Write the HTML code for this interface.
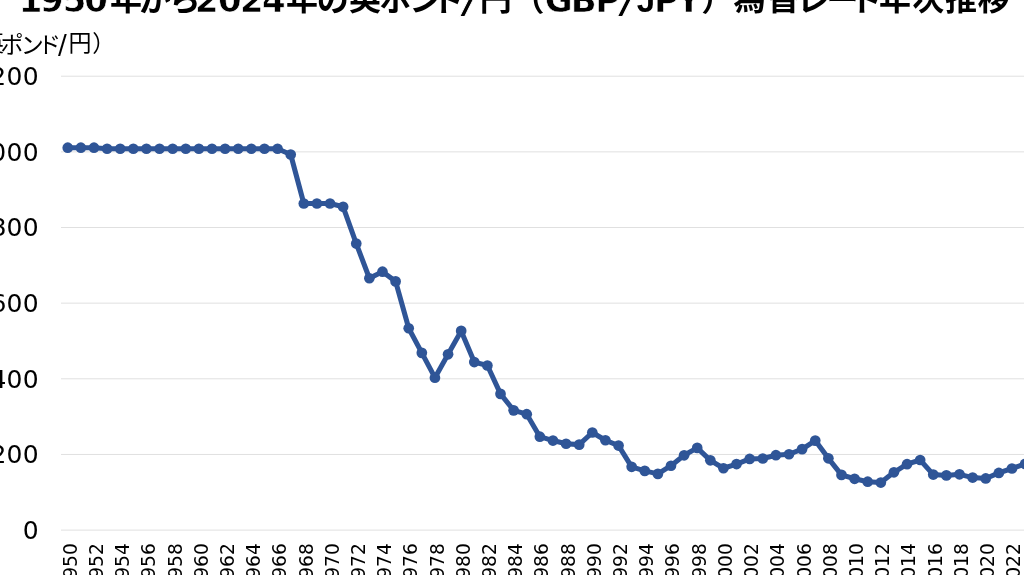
<!DOCTYPE html>
<html lang="ja">
<head>
<meta charset="utf-8">
<title>1950年から2024年の英ポンド/円（GBP/JPY）為替レート年次推移</title>
<style>
html,body{margin:0;padding:0;background:#fff;}
body{width:1024px;height:575px;overflow:hidden;position:relative;}
svg{display:block;position:absolute;left:0;top:0;}
text{font-family:"DejaVu Sans","Liberation Sans","Noto Sans CJK JP",sans-serif;fill:#000;}
.title{font-weight:bold;font-size:32px;}
.title .l{font-size:34px;stroke:#fff;stroke-width:0.6px;}
.title .s{font-size:44px;font-style:oblique;stroke:#fff;stroke-width:0.9px;}
.title .j{font-family:"Liberation Sans","DejaVu Sans",sans-serif;font-size:33px;}
.ylab{font-size:23px;}
.ylab .s{font-size:26px;}
.ytick{font-size:25px;text-anchor:end;letter-spacing:0.3px;}
.xtick{font-size:19.8px;text-anchor:end;}
.grid line{stroke:#e0e0e0;stroke-width:1;}
</style>
</head>
<body>
<svg width="1024" height="575" viewBox="0 0 1024 575">
<rect x="0" y="0" width="1024" height="575" fill="#ffffff"/>
<text class="title" x="18.8 40.0 62.7 84.2 109.9 138.8 168.8 195.1 218.0 240.1 261.9 285.9 316.7 349.0 379.6 409.2 432.4 464.1 479.8 512.4 544.8 570.8 595.2 621.8 636.7 653.9 676.6 701.2 733.6 767.6 796.8 826.5 849.8 879.0 912.3 945.0 977.4" y="11.6 11.6 11.6 11.6 9.5 10.9 10.9 11.6 11.6 11.6 11.6 9.5 10.9 9.5 10.9 10.9 10.9 13.2 9.5 10.7 11.6 11.6 11.6 13.2 11.6 11.6 11.6 10.7 9.5 9.5 10.9 10.9 10.9 9.5 9.5 9.5 9.5"><tspan class="l">1950</tspan>年から<tspan class="l">2024</tspan>年の英ポンド<tspan class="s">/</tspan>円（<tspan class="l">GBP</tspan><tspan class="s">/</tspan><tspan class="j">J</tspan><tspan class="l">PY</tspan>）為替レート年次推移</text>
<text class="ylab" x="-42.1 -19.1 0.6 20.8 38 58.1 68.6 92.3" y="52.3 51.2 52.5 52.5 52.5 54.4 51.2 52.3">（英ポンド<tspan class="s">/</tspan>円）</text>
<g class="grid">
<line x1="61" y1="76.2" x2="1090" y2="76.2"/>
<line x1="61" y1="151.85" x2="1090" y2="151.85"/>
<line x1="61" y1="227.5" x2="1090" y2="227.5"/>
<line x1="61" y1="303.15" x2="1090" y2="303.15"/>
<line x1="61" y1="378.8" x2="1090" y2="378.8"/>
<line x1="61" y1="454.45" x2="1090" y2="454.45"/>
<line x1="61" y1="530.1" x2="1090" y2="530.1"/>
</g>
<g>
<text class="ytick" x="39.0" y="85.0">1,200</text>
<text class="ytick" x="39.0" y="160.65">1,000</text>
<text class="ytick" x="39.0" y="236.3">800</text>
<text class="ytick" x="39.0" y="311.95">600</text>
<text class="ytick" x="39.0" y="387.6">400</text>
<text class="ytick" x="39.0" y="463.25">200</text>
<text class="ytick" x="39.0" y="538.9">0</text>
</g>
<g>
<text class="xtick" transform="translate(76.70,543.2) rotate(-90) scale(0.943,1)">1950</text>
<text class="xtick" transform="translate(102.91,543.2) rotate(-90) scale(0.943,1)">1952</text>
<text class="xtick" transform="translate(129.12,543.2) rotate(-90) scale(0.943,1)">1954</text>
<text class="xtick" transform="translate(155.32,543.2) rotate(-90) scale(0.943,1)">1956</text>
<text class="xtick" transform="translate(181.53,543.2) rotate(-90) scale(0.943,1)">1958</text>
<text class="xtick" transform="translate(207.74,543.2) rotate(-90) scale(0.943,1)">1960</text>
<text class="xtick" transform="translate(233.95,543.2) rotate(-90) scale(0.943,1)">1962</text>
<text class="xtick" transform="translate(260.16,543.2) rotate(-90) scale(0.943,1)">1964</text>
<text class="xtick" transform="translate(286.36,543.2) rotate(-90) scale(0.943,1)">1966</text>
<text class="xtick" transform="translate(312.57,543.2) rotate(-90) scale(0.943,1)">1968</text>
<text class="xtick" transform="translate(338.78,543.2) rotate(-90) scale(0.943,1)">1970</text>
<text class="xtick" transform="translate(364.99,543.2) rotate(-90) scale(0.943,1)">1972</text>
<text class="xtick" transform="translate(391.20,543.2) rotate(-90) scale(0.943,1)">1974</text>
<text class="xtick" transform="translate(417.40,543.2) rotate(-90) scale(0.943,1)">1976</text>
<text class="xtick" transform="translate(443.61,543.2) rotate(-90) scale(0.943,1)">1978</text>
<text class="xtick" transform="translate(469.82,543.2) rotate(-90) scale(0.943,1)">1980</text>
<text class="xtick" transform="translate(496.03,543.2) rotate(-90) scale(0.943,1)">1982</text>
<text class="xtick" transform="translate(522.24,543.2) rotate(-90) scale(0.943,1)">1984</text>
<text class="xtick" transform="translate(548.44,543.2) rotate(-90) scale(0.943,1)">1986</text>
<text class="xtick" transform="translate(574.65,543.2) rotate(-90) scale(0.943,1)">1988</text>
<text class="xtick" transform="translate(600.86,543.2) rotate(-90) scale(0.943,1)">1990</text>
<text class="xtick" transform="translate(627.07,543.2) rotate(-90) scale(0.943,1)">1992</text>
<text class="xtick" transform="translate(653.28,543.2) rotate(-90) scale(0.943,1)">1994</text>
<text class="xtick" transform="translate(679.48,543.2) rotate(-90) scale(0.943,1)">1996</text>
<text class="xtick" transform="translate(705.69,543.2) rotate(-90) scale(0.943,1)">1998</text>
<text class="xtick" transform="translate(731.90,543.2) rotate(-90) scale(0.943,1)">2000</text>
<text class="xtick" transform="translate(758.11,543.2) rotate(-90) scale(0.943,1)">2002</text>
<text class="xtick" transform="translate(784.32,543.2) rotate(-90) scale(0.943,1)">2004</text>
<text class="xtick" transform="translate(810.52,543.2) rotate(-90) scale(0.943,1)">2006</text>
<text class="xtick" transform="translate(836.73,543.2) rotate(-90) scale(0.943,1)">2008</text>
<text class="xtick" transform="translate(862.94,543.2) rotate(-90) scale(0.943,1)">2010</text>
<text class="xtick" transform="translate(889.15,543.2) rotate(-90) scale(0.943,1)">2012</text>
<text class="xtick" transform="translate(915.36,543.2) rotate(-90) scale(0.943,1)">2014</text>
<text class="xtick" transform="translate(941.56,543.2) rotate(-90) scale(0.943,1)">2016</text>
<text class="xtick" transform="translate(967.77,543.2) rotate(-90) scale(0.943,1)">2018</text>
<text class="xtick" transform="translate(993.98,543.2) rotate(-90) scale(0.943,1)">2020</text>
<text class="xtick" transform="translate(1020.19,543.2) rotate(-90) scale(0.943,1)">2022</text>
<text class="xtick" transform="translate(1046.40,543.2) rotate(-90) scale(0.943,1)">2024</text>
</g>
<path d="M67.75,147.67 L80.86,147.67 L93.98,147.67 L107.09,148.74 L120.21,148.74 L133.32,148.74 L146.43,148.74 L159.55,148.74 L172.66,148.74 L185.78,148.74 L198.89,148.74 L212.00,148.74 L225.12,148.74 L238.23,148.74 L251.35,148.74 L264.46,148.74 L277.57,148.74 L290.69,154.48 L303.80,203.48 L316.92,203.48 L330.03,203.48 L343.14,206.80 L356.26,243.59 L369.37,278.24 L382.49,271.71 L395.60,281.39 L408.71,328.26 L421.83,352.87 L434.94,377.66 L448.06,354.31 L461.17,330.90 L474.28,362.09 L487.40,365.49 L500.51,393.90 L513.63,410.37 L526.74,414.19 L539.85,436.67 L552.97,440.56 L566.08,443.76 L579.20,444.64 L592.31,432.52 L605.42,440.24 L618.54,445.58 L631.65,466.80 L644.77,470.88 L657.88,473.89 L670.99,465.73 L684.11,455.31 L697.22,447.89 L710.34,460.33 L723.45,468.25 L736.56,464.03 L749.68,458.95 L762.79,458.51 L775.91,455.18 L789.02,454.26 L802.13,449.11 L815.25,440.62 L828.36,458.32 L841.48,474.89 L854.59,478.78 L867.70,481.67 L880.82,482.55 L893.93,472.32 L907.05,464.22 L920.16,460.02 L933.27,474.58 L946.39,475.40 L959.50,474.33 L972.62,477.59 L985.73,478.47 L998.84,472.95 L1011.96,468.49 L1025.07,463.91 L1038.19,457.13" fill="none" stroke="#2f5597" stroke-width="5.05" stroke-linejoin="round" stroke-linecap="round"/>
<g fill="#2f5597">
<circle cx="67.75" cy="147.67" r="5.35"/>
<circle cx="80.86" cy="147.67" r="5.35"/>
<circle cx="93.98" cy="147.67" r="5.35"/>
<circle cx="107.09" cy="148.74" r="5.35"/>
<circle cx="120.21" cy="148.74" r="5.35"/>
<circle cx="133.32" cy="148.74" r="5.35"/>
<circle cx="146.43" cy="148.74" r="5.35"/>
<circle cx="159.55" cy="148.74" r="5.35"/>
<circle cx="172.66" cy="148.74" r="5.35"/>
<circle cx="185.78" cy="148.74" r="5.35"/>
<circle cx="198.89" cy="148.74" r="5.35"/>
<circle cx="212.00" cy="148.74" r="5.35"/>
<circle cx="225.12" cy="148.74" r="5.35"/>
<circle cx="238.23" cy="148.74" r="5.35"/>
<circle cx="251.35" cy="148.74" r="5.35"/>
<circle cx="264.46" cy="148.74" r="5.35"/>
<circle cx="277.57" cy="148.74" r="5.35"/>
<circle cx="290.69" cy="154.48" r="5.35"/>
<circle cx="303.80" cy="203.48" r="5.35"/>
<circle cx="316.92" cy="203.48" r="5.35"/>
<circle cx="330.03" cy="203.48" r="5.35"/>
<circle cx="343.14" cy="206.80" r="5.35"/>
<circle cx="356.26" cy="243.59" r="5.35"/>
<circle cx="369.37" cy="278.24" r="5.35"/>
<circle cx="382.49" cy="271.71" r="5.35"/>
<circle cx="395.60" cy="281.39" r="5.35"/>
<circle cx="408.71" cy="328.26" r="5.35"/>
<circle cx="421.83" cy="352.87" r="5.35"/>
<circle cx="434.94" cy="377.66" r="5.35"/>
<circle cx="448.06" cy="354.31" r="5.35"/>
<circle cx="461.17" cy="330.90" r="5.35"/>
<circle cx="474.28" cy="362.09" r="5.35"/>
<circle cx="487.40" cy="365.49" r="5.35"/>
<circle cx="500.51" cy="393.90" r="5.35"/>
<circle cx="513.63" cy="410.37" r="5.35"/>
<circle cx="526.74" cy="414.19" r="5.35"/>
<circle cx="539.85" cy="436.67" r="5.35"/>
<circle cx="552.97" cy="440.56" r="5.35"/>
<circle cx="566.08" cy="443.76" r="5.35"/>
<circle cx="579.20" cy="444.64" r="5.35"/>
<circle cx="592.31" cy="432.52" r="5.35"/>
<circle cx="605.42" cy="440.24" r="5.35"/>
<circle cx="618.54" cy="445.58" r="5.35"/>
<circle cx="631.65" cy="466.80" r="5.35"/>
<circle cx="644.77" cy="470.88" r="5.35"/>
<circle cx="657.88" cy="473.89" r="5.35"/>
<circle cx="670.99" cy="465.73" r="5.35"/>
<circle cx="684.11" cy="455.31" r="5.35"/>
<circle cx="697.22" cy="447.89" r="5.35"/>
<circle cx="710.34" cy="460.33" r="5.35"/>
<circle cx="723.45" cy="468.25" r="5.35"/>
<circle cx="736.56" cy="464.03" r="5.35"/>
<circle cx="749.68" cy="458.95" r="5.35"/>
<circle cx="762.79" cy="458.51" r="5.35"/>
<circle cx="775.91" cy="455.18" r="5.35"/>
<circle cx="789.02" cy="454.26" r="5.35"/>
<circle cx="802.13" cy="449.11" r="5.35"/>
<circle cx="815.25" cy="440.62" r="5.35"/>
<circle cx="828.36" cy="458.32" r="5.35"/>
<circle cx="841.48" cy="474.89" r="5.35"/>
<circle cx="854.59" cy="478.78" r="5.35"/>
<circle cx="867.70" cy="481.67" r="5.35"/>
<circle cx="880.82" cy="482.55" r="5.35"/>
<circle cx="893.93" cy="472.32" r="5.35"/>
<circle cx="907.05" cy="464.22" r="5.35"/>
<circle cx="920.16" cy="460.02" r="5.35"/>
<circle cx="933.27" cy="474.58" r="5.35"/>
<circle cx="946.39" cy="475.40" r="5.35"/>
<circle cx="959.50" cy="474.33" r="5.35"/>
<circle cx="972.62" cy="477.59" r="5.35"/>
<circle cx="985.73" cy="478.47" r="5.35"/>
<circle cx="998.84" cy="472.95" r="5.35"/>
<circle cx="1011.96" cy="468.49" r="5.35"/>
<circle cx="1025.07" cy="463.91" r="5.35"/>
<circle cx="1038.19" cy="457.13" r="5.35"/>
</g>
</svg>
</body>
</html>
